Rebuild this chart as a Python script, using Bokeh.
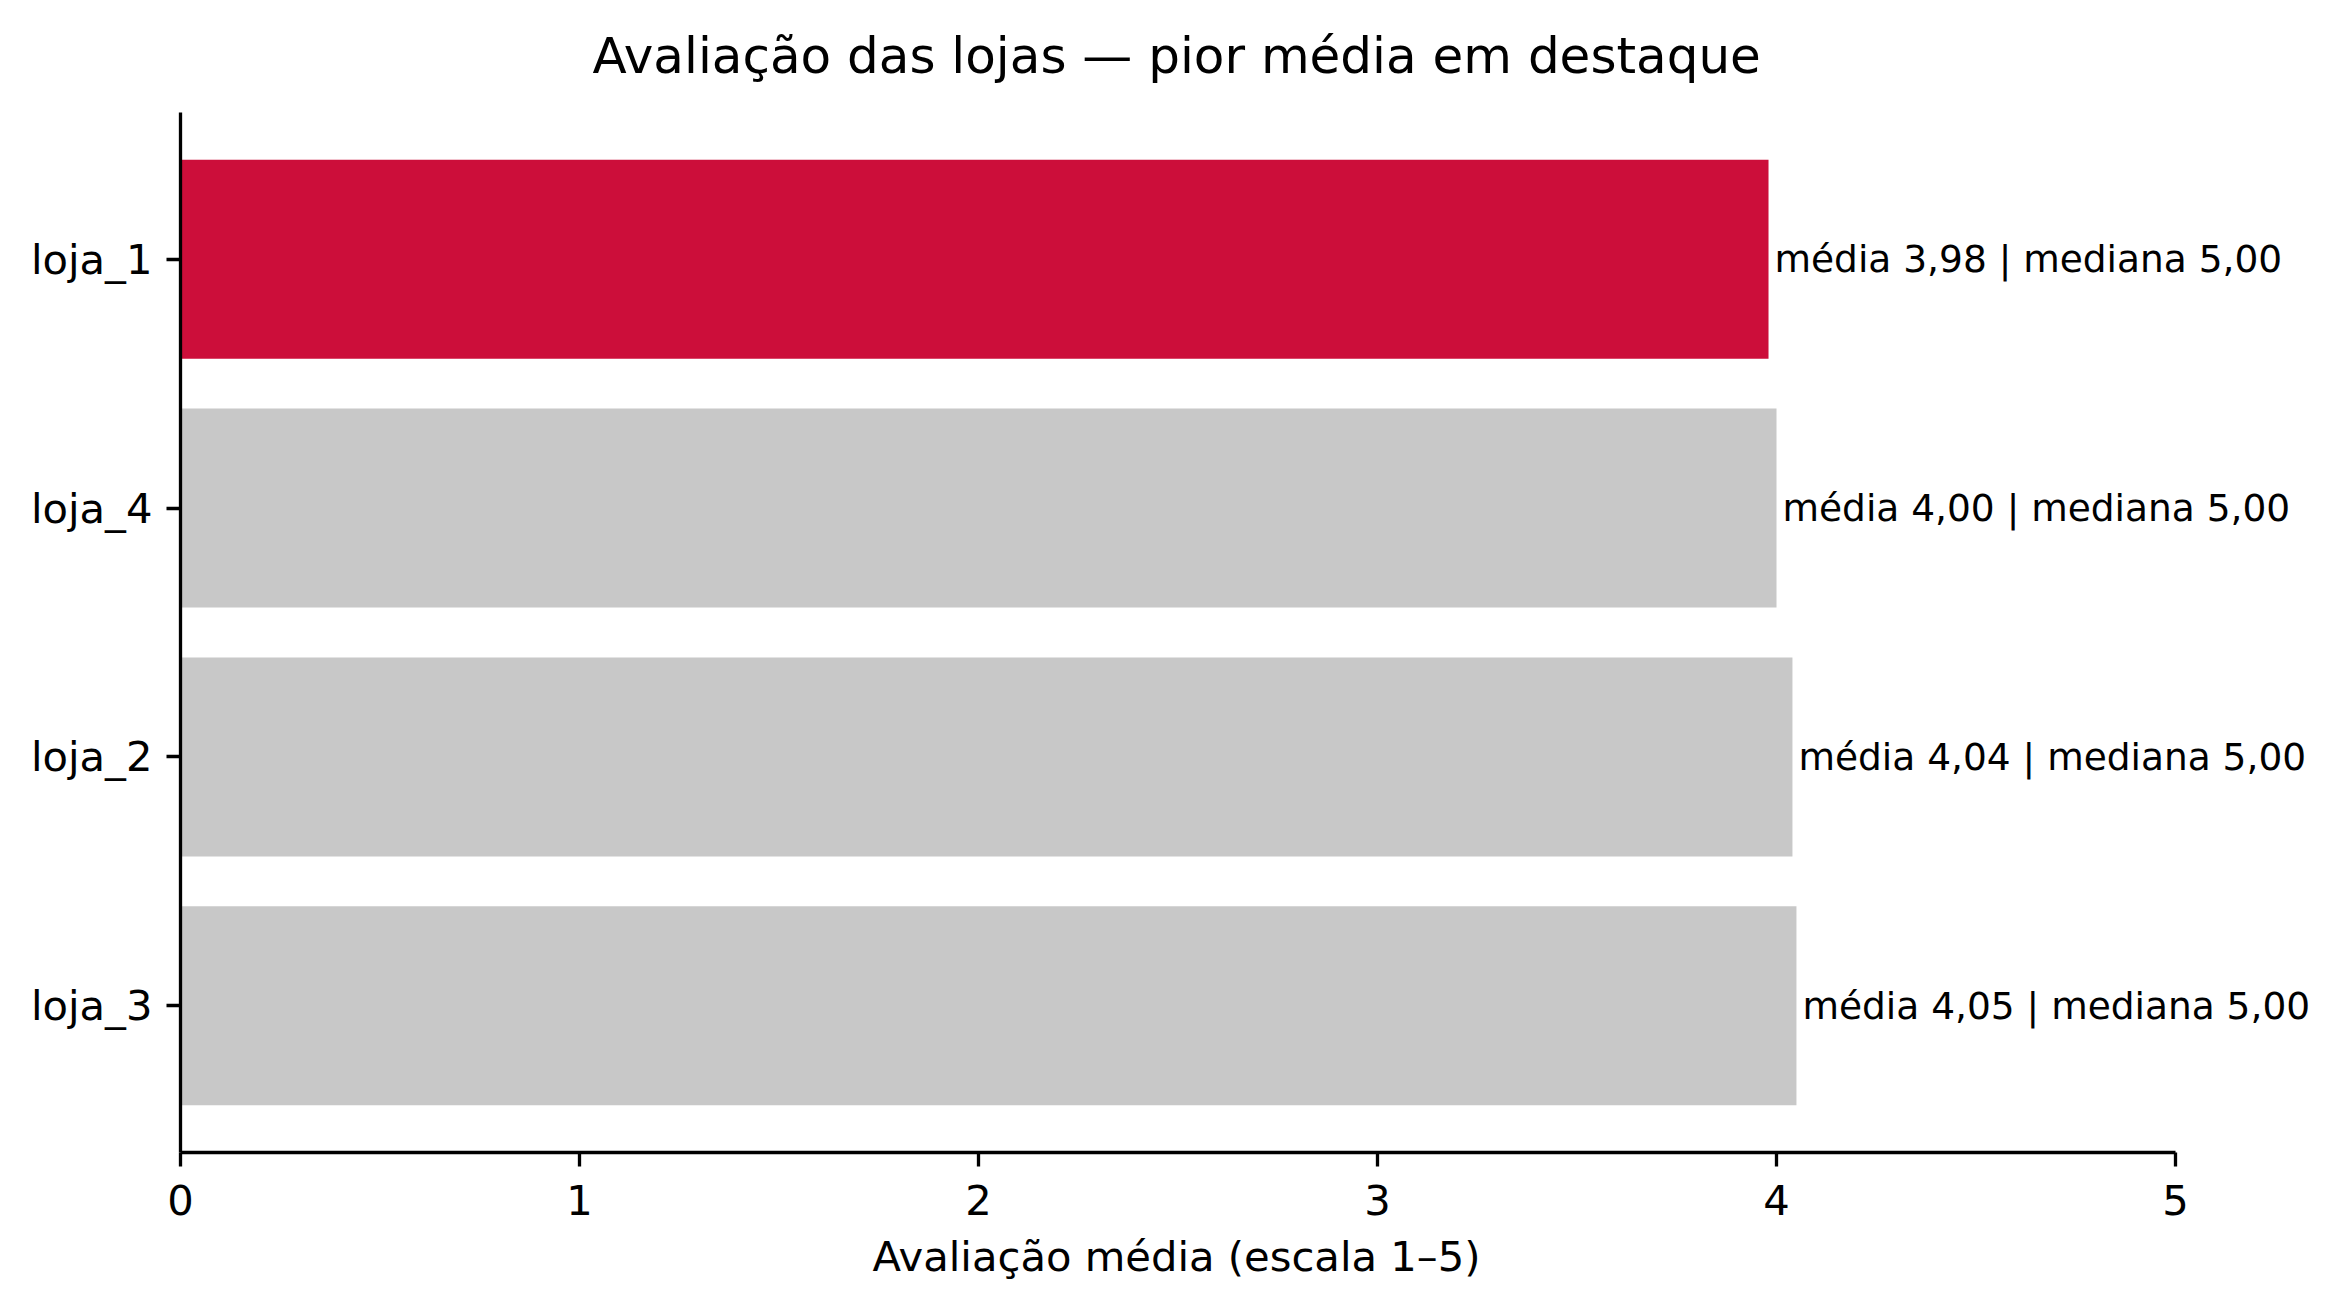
from bokeh.plotting import figure
from bokeh.models import ColumnDataSource, FactorRange, Range1d, FixedTicker, LabelSet, Title
from bokeh.embed import file_html
from bokeh.resources import INLINE
from bokeh.core.properties import value

# ---- data ----
lojas = ["loja_1", "loja_4", "loja_2", "loja_3"]          # top to bottom
medias = [3.98, 4.00, 4.04, 4.05]
medianas = [5.00, 5.00, 5.00, 5.00]
destaque = "loja_1"                                        # worst average
title_text = "Avaliação das lojas — pior média em destaque"
x_label = "Avaliação média (escala 1–5)"
x_ticks = [0, 1, 2, 3, 4, 5]
x_min, x_max = 0, 5

RED = "#CC0E3A"
GRAY = "#C8C8C8"
FONT = "DejaVu Sans"

def fmt(v):
    return f"{v:.2f}".replace(".", ",")

labels = [f"média {fmt(m)} | mediana {fmt(md)}" for m, md in zip(medias, medianas)]
colors = [RED if l == destaque else GRAY for l in lojas]

src = ColumnDataSource(dict(loja=lojas, media=medias, label=labels, color=colors))

# layout (pixels)
W, H = 2324, 1299
LEFT, AXIS_RIGHT = 180, 2175          # frame left, pixel of x_max
AXIS_MID = (AXIS_RIGHT - LEFT) / 2     # axis centre, from frame left
TITLE_W, XLABEL_W = 1171, 611          # approximate rendered text widths (DejaVu Sans)
# the frame extends to the right edge so the value labels are not clipped;
# the visible axis stops at x_max via axis bounds
x_end = x_min + (x_max - x_min) * (W - LEFT) / (AXIS_RIGHT - LEFT)

p = figure(
    width=W, height=H,
    y_range=FactorRange(factors=list(reversed(lojas)), range_padding=0.09,
                        range_padding_units="absolute"),
    x_range=Range1d(x_min, x_end),
    output_backend="svg", toolbar_location=None,
    min_border_left=LEFT, min_border_right=0,
    min_border_top=112, min_border_bottom=147,
)

p.hbar(y="loja", right="media", left=0, height=0.8, color="color",
       line_color=None, source=src)

lbl = LabelSet(x="media", y="loja", text="label", source=src,
               x_offset=6, text_align="left", text_baseline="middle",
               text_font=value(FONT), text_font_size="37.5px", text_color="black")
p.add_layout(lbl)

# title, centred over the axis
p.title.text = title_text
p.title.align = "left"
p.title.vertical_align = "top"
p.title.offset = AXIS_MID - TITLE_W / 2
p.title.text_font = FONT
p.title.text_font_size = "50px"
p.title.text_font_style = "normal"
p.title.text_color = "black"
p.title.standoff = 52

# axes
for ax in (p.xaxis[0], p.yaxis[0]):
    ax.axis_line_color = "black"
    ax.axis_line_width = 3.3
    ax.major_tick_line_color = "black"
    ax.major_tick_line_width = 3.3
    ax.major_tick_out = 14
    ax.major_tick_in = 0
    ax.minor_tick_line_color = None
    ax.major_label_text_font = FONT
    ax.major_label_text_font_size = "41.7px"
    ax.major_label_text_color = "black"
    ax.major_label_standoff = 14

p.xaxis.bounds = (x_min, x_max)
p.xaxis.major_label_standoff = 18
p.xaxis.ticker = FixedTicker(ticks=x_ticks)

# x axis label, centred under the axis
xl = Title(text=x_label, align="left", offset=AXIS_MID - XLABEL_W / 2,
           vertical_align="top", standoff=28,
           text_font=FONT, text_font_size="41.7px", text_font_style="normal",
           text_color="black")
p.add_layout(xl, "below")

p.xgrid.grid_line_color = None
p.ygrid.grid_line_color = None
p.outline_line_color = None
p.background_fill_color = "white"
p.border_fill_color = "white"

open("out.html", "w").write(file_html(p, INLINE))
